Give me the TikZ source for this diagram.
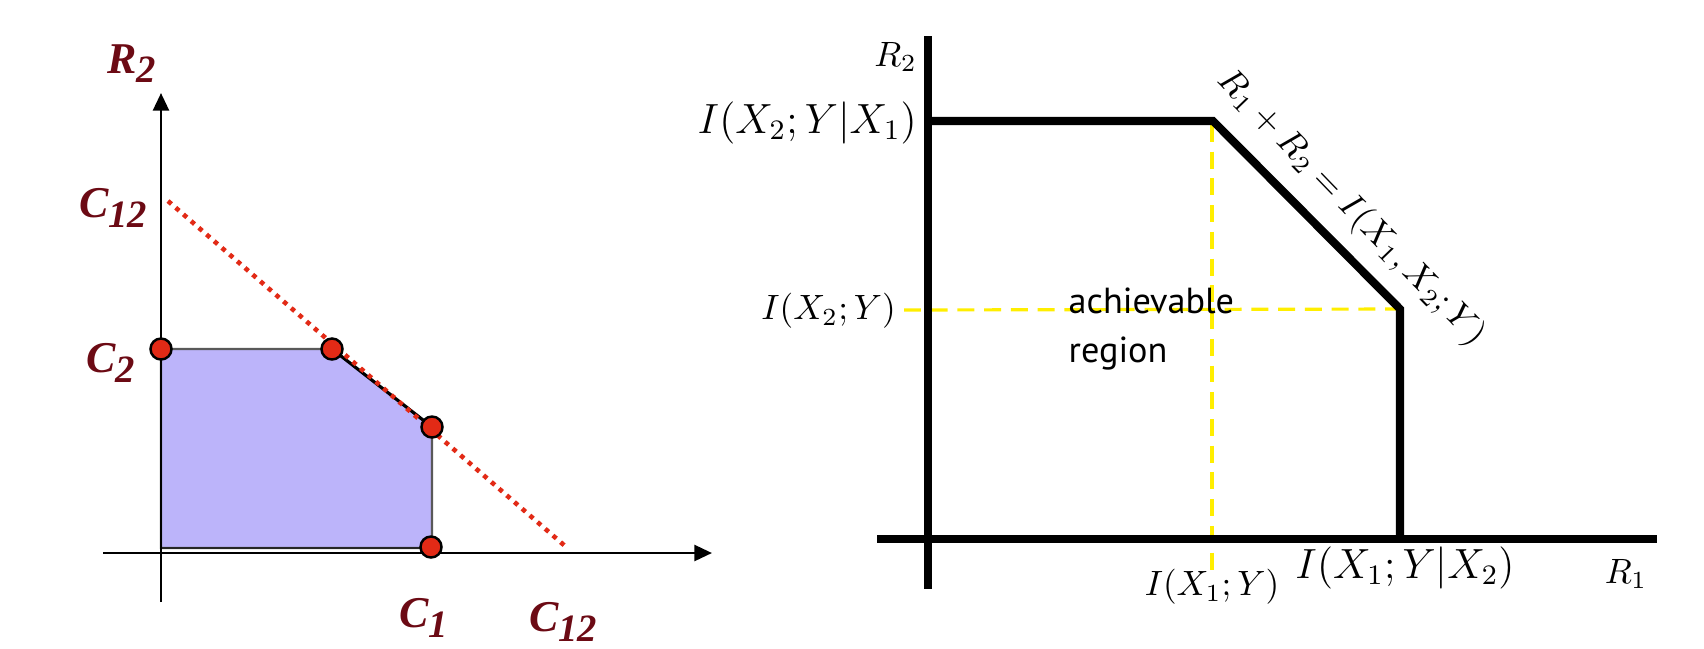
\documentclass[tikz,border=0pt]{standalone}
\usepackage{amsmath,amssymb}
\usepackage{fontspec}
\newfontfamily\capfont{Liberation Serif}
\newfontfamily\regfont{PT Sans}
\usetikzlibrary{arrows.meta,positioning,calc}
\definecolor{maroon}{RGB}{108,10,20}
\definecolor{lav}{RGB}{188,180,250}
\definecolor{dotred}{RGB}{226,42,22}
\definecolor{yellowln}{RGB}{255,238,0}
\newcommand{\clab}[2]{{\capfont\bfseries\itshape\fontsize{12.5pt}{12.5pt}\selectfont #1\raisebox{-2.6pt}{\fontsize{11pt}{11pt}\selectfont #2}}}

\begin{document}
\begin{tikzpicture}[x=0.01cm, y=-0.01cm,
    axarr/.style={-{Triangle[length=5pt,width=4.5pt]}, line width=0.8pt},
    regionfill/.style={fill=lav, draw=black!65, line width=0.6pt},
    reddots/.style={draw=dotred, line width=1.3pt, dash pattern=on 1.3pt off 1.6pt},
    dot/.style={circle, draw=black, line width=0.7pt, fill=dotred, minimum size=0.21cm, inner sep=0pt},
    clabel/.style={text=maroon, inner sep=0pt},
    thk/.style={line width=2.3pt},
    ydash/.style={draw=yellowln, line width=0.9pt, dash pattern=on 4.8pt off 2.8pt},
    mlab/.style={font=\fontsize{10pt}{12pt}\selectfont, inner sep=1pt},
    blab/.style={font=\fontsize{11.5pt}{13pt}\selectfont, inner sep=1pt}
]
\useasboundingbox (0,0) rectangle (1704,648);

\coordinate (p2) at (161,349);
\coordinate (pa) at (332,349);
\coordinate (pb) at (432,427);
\coordinate (p1) at (432,548);
\coordinate (p0) at (161,548);
\coordinate (ybot) at (161,602);
\coordinate (ytop) at (161,93);
\coordinate (xleft) at (103,553);
\coordinate (xright) at (712,553);
\coordinate (ls) at (168,201);
\coordinate (le) at (565,546);

\draw[regionfill] (p2) -- (pa) -- (pb) -- (p1) -- (p0) -- cycle;
\draw[line width=0.9pt] (pa) -- (pb);
\draw[line width=0.7pt, black!85] (p0) -- (p1);
\draw[axarr] (ybot) -- (ytop);
\draw[axarr] (xleft) -- (xright);
\draw[reddots] (ls) -- (le);
\node[dot] (d2) at (p2) {};
\node[dot] (da) at (pa) {};
\node[dot] (db) at (pb) {};
\node[dot] (d1) at (431,547) {};

\node[clabel] (r2l) at (132,64) {\clab{R}{2}};
\node[clabel] (c12a) at (113,208) {\clab{C}{12}};
\node[clabel] (c2l) at (111,363) {\clab{C}{2}};
\node[clabel] (c1l) at (424,618) {\clab{C}{1}};
\node[clabel] (c12b) at (563,622) {\clab{C}{12}};

\coordinate (q2) at (928,121);
\coordinate (qa) at (1213,121);
\coordinate (qb) at (1400,309);
\coordinate (q1) at (1400,539);
\coordinate (vtop) at (928,36);
\coordinate (vbot) at (928,589);
\coordinate (hleft) at (877,539);
\coordinate (hright) at (1657,539);

\draw[ydash] (1212,125) -- (1212,578);
\draw[ydash] (904,310) -- (qb);
\draw[thk] (vtop) -- (vbot);
\draw[thk] (hleft) -- (hright);
\draw[thk] (q2) -- (qa) -- (qb) -- (q1);

\node[mlab, anchor=east] (r2r) at (921,57) {$R_2$};
\node[blab, anchor=east] (i2c) at (921,123) {$I(X_2;Y|X_1)$};
\node[mlab, anchor=east] (i2) at (900,311) {$I(X_2;Y)$};
\node[mlab] (i1) at (1212,587) {$I(X_1;Y)$};
\node[blab] (i1c) at (1405,568) {$I(X_1;Y|X_2)$};
\node[mlab] (r1r) at (1626,574) {$R_1$};
\node[mlab, rotate=-46] (sum) at (1351,208) {$R_1+R_2=I(X_1,X_2;Y)$};
\node[anchor=west, align=left, inner sep=0pt, font=\regfont\fontsize{10.3pt}{14pt}\selectfont] (ach) at (1068,329) {achievable\\region};
\end{tikzpicture}
\end{document}
